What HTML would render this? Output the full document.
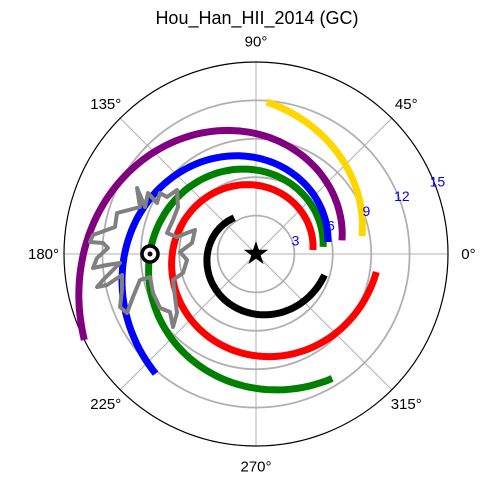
<!DOCTYPE html>
<html><head><meta charset="utf-8"><style>body{margin:0;background:#fff}svg{display:block;font-family:"Liberation Sans","DejaVu Sans",sans-serif}</style></head>
<body>
<svg id="chart" width="500" height="500" viewBox="0 0 500 500">
<text x="257" y="24" font-size="18" text-anchor="middle">Hou_Han_HII_2014 (GC)</text>
<g id="grid"></g>
<g id="arms"></g>
<path d="M137,188 L140,207 L117,213 L115,227 L93,235 L90,242 L103,243 L108,248 L97,258 L93,268 L107,265 L120,263 L103,280 L97,287 L107,285 L122,275 L122,290 L120,307 L127,313 L133,297 L140,280 L150,277 L153,293 L160,308 L170,312 L173,327 L177,313 L175,297 L173,280 L183,273 L187,260 L180,252 L192,243 L195,230 L187,233 L177,237 L167,233 L173,220 L178,207 L177,190 L167,197 L160,193 L157,203 L148,193 L145,207 L140,195 Z" fill="none" stroke="#808080" stroke-width="4" stroke-linejoin="round"/>
<circle cx="150" cy="254" r="8" fill="#fff" stroke="#000" stroke-width="3.5"/>
<circle cx="150" cy="254" r="2.5" fill="#000"/>
<text x="256" y="264" font-size="32" text-anchor="middle">★</text>
<g id="labels"></g>
</svg>
<script>
const radialTicks=[3,6,9,12,15];
const angleTicks=[0,45,90,135,180,225,270,315];
const armNames=["red","green","blue","purple","yellow","black"];
const armColors=["#ff0000","#008000","#0000ff","#800080","#ffd700","#000000"];
const armStartAngle=[4,6,9.5,9,9.6,121];
const armEndAngle=[351.5,301.5,230,206.6,86,343];
const armStartR=[4.46,5.27,5.7,6.8,8.4,3.3];
const armEndR=[9.5,11.4,12.2,15,11.9,5.6];
const cx=256,cy=254,R=192,rMax=15;
const NS="http://www.w3.org/2000/svg";
function rs(r){return r/rMax*R;}
function px(a,r){const t=a*Math.PI/180;return [cx+rs(r)*Math.cos(t),cy-rs(r)*Math.sin(t)];}
function mk(tag,attrs,parent){const e=document.createElementNS(NS,tag);for(const k in attrs)e.setAttribute(k,attrs[k]);parent.appendChild(e);return e;}
const grid=document.getElementById('grid');
angleTicks.forEach(a=>{const p=px(a,rMax);
 const l=mk('line',{x1:cx,y1:cy,x2:p[0],y2:p[1],stroke:'#b0b0b0','stroke-width':1},grid);
 
 });
radialTicks.forEach(r=>{const c=mk('circle',{cx:cx,cy:cy,r:rs(r),fill:'none',stroke:r===rMax?'#000':'#b0b0b0','stroke-width':r===rMax?1.2:1.8},grid);
 
 });
const arms=document.getElementById('arms');
armNames.forEach((n,i)=>{const a0=armStartAngle[i],a1=armEndAngle[i],r0=armStartR[i],r1=armEndR[i];
 const k=Math.log(r1/r0)/(a1-a0);let d='';const N=120;
 for(let j=0;j<=N;j++){const a=a0+(a1-a0)*j/N;const r=r0*Math.exp(k*(a-a0));const p=px(a,r);d+=(j?'L':'M')+p[0].toFixed(1)+','+p[1].toFixed(1);}
 const e=mk('path',{d:d,fill:'none',stroke:armColors[i],'stroke-width':7},arms);
 
 });
const labels=document.getElementById('labels');
angleTicks.forEach(a=>{const p=px(a,rMax+1.6);
 const t=mk('text',{x:p[0],y:p[1]+5,'font-size':15,'text-anchor':'middle'},labels);t.textContent=a+'°';
 
 });
radialTicks.forEach(r=>{const p=px(22.5,r);
 const t=mk('text',{x:p[0]+4,y:p[1]+6,'font-size':14,fill:'#0000ff','text-anchor':'middle'},labels);t.textContent=r;
 
 });
</script>
</body></html>
